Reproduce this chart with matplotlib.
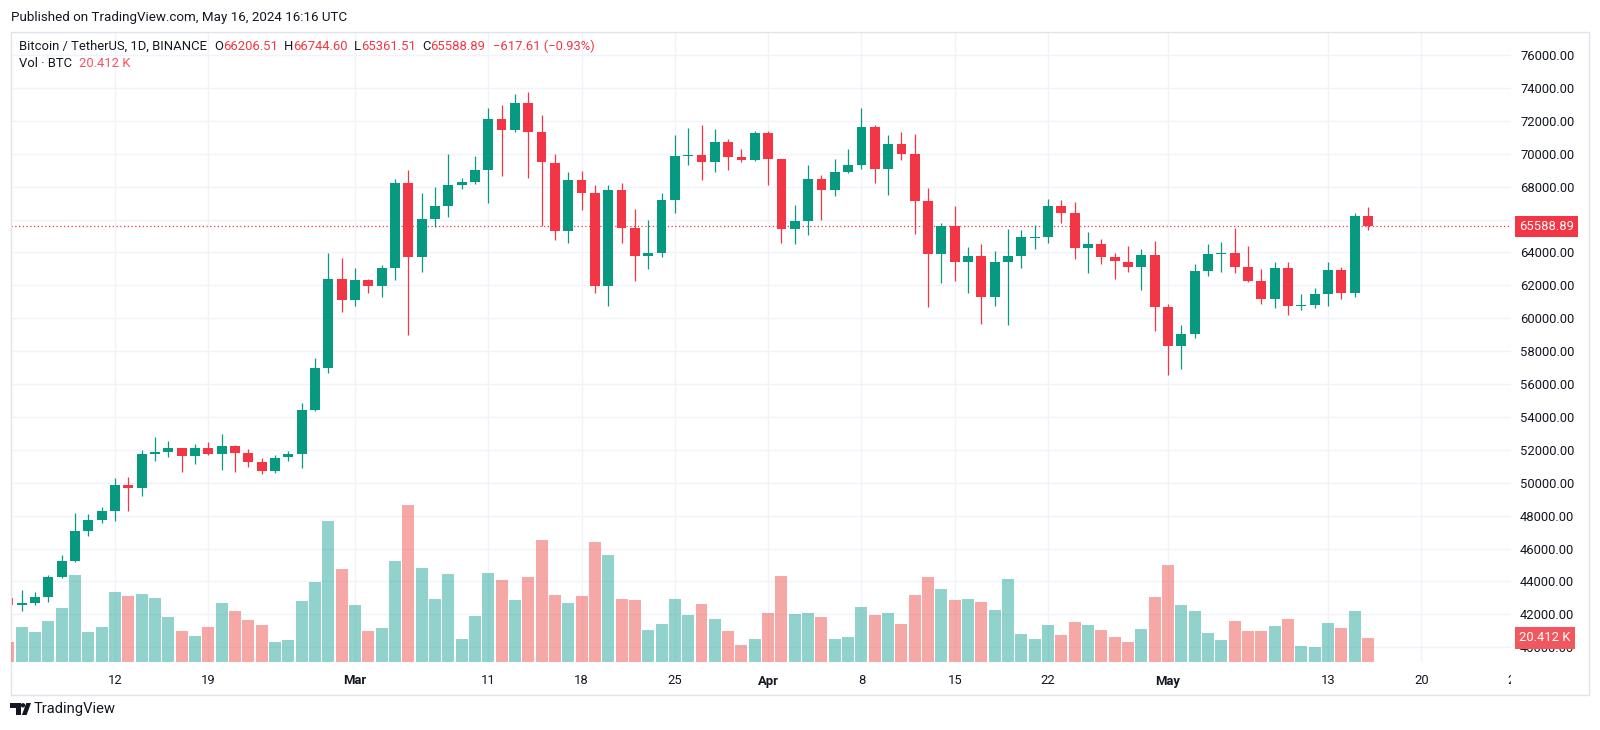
import matplotlib
matplotlib.use("Agg")
import matplotlib.pyplot as plt
import matplotlib.transforms as mtransforms
from matplotlib.patches import Rectangle, Polygon, Circle
import pandas as pd

plt.rcParams['font.family'] = ['Roboto', 'DejaVu Sans']

# daily candles BTCUSDT, from Feb 4 2024 to May 16 2024
start = "2024-02-04"
opens = [43000, 42580, 42660, 43040, 44280, 45250, 47090, 47720, 48260, 49860,
         49660, 51770, 51860, 52085, 51635, 52085, 51770, 52220, 51815, 51275,
         50735, 51560, 51730, 54425, 56990, 62390, 61107, 62345, 61985, 63065,
         68195, 63695, 66057, 66800, 68105, 68300, 68982, 72087, 71435, 73077,
         71345, 69455, 65292, 68375, 67587, 61940, 67812, 65495, 63762, 63965,
         67182, 69860, 69950, 69500, 70737, 69815, 69590, 71277, 69657, 65450,
         65922, 68465, 67812, 68915, 69320, 71615, 69095, 70602, 69995, 67115,
         63920, 65607, 63402, 63762, 61265, 63447, 63762, 64900, 64932, 66800,
         66395, 64257, 64482, 63740, 63425, 63110, 63830, 60657, 58340, 59015,
         62840, 63875, 63965, 63132, 62277, 61175, 63042, 60770, 60792, 61445,
         62907, 61557, 66206.51]
highs = [43180, 43490, 43330, 44390, 45580, 48170, 48125, 48550, 50285, 50350,
         51995, 52760, 52510, 52100, 52330, 52445, 52960, 52300, 52040, 51500,
         51680, 51930, 54875, 57575, 63965, 63650, 63065, 62412, 63245, 68465,
         69005, 67632, 67970, 69995, 68510, 69882, 72762, 72965, 73640, 73775,
         72357, 69995, 68870, 68960, 68082, 68082, 68195, 66620, 65945, 67610,
         71120, 71570, 71750, 71525, 70890, 70287, 71390, 71390, 69700, 66890,
         69320, 68712, 69657, 70287, 72762, 71750, 71165, 71300, 71187, 67902,
         65810, 66800, 64347, 64527, 64100, 65427, 65382, 65675, 67227, 67182,
         67070, 65270, 64820, 63965, 64370, 64212, 64707, 60837, 59600, 63312,
         64527, 64640, 65495, 64370, 62975, 63402, 63425, 61490, 61850, 63425,
         63132, 66395, 66744.60]
lows = [42400, 42210, 42545, 42770, 44200, 45200, 46780, 47540, 47675, 48280,
        49180, 51320, 51545, 50645, 51160, 51700, 50760, 50645, 50960, 50510,
        50600, 51320, 50870, 54350, 56675, 60365, 60770, 61557, 61265, 62300,
        58970, 62795, 65540, 66125, 67857, 68150, 67025, 68645, 71300, 68532,
        65607, 64775, 64550, 66575, 61557, 60770, 64550, 62277, 63020, 63740,
        66395, 69320, 68375, 68915, 69005, 69500, 69540, 68082, 64550, 64482,
        65045, 65945, 67452, 68825, 69050, 68195, 67520, 69590, 65090, 60657,
        62120, 62232, 61557, 59645, 60770, 59600, 63065, 64212, 64550, 65765,
        63627, 62750, 63290, 62390, 62795, 61737, 59195, 56540, 56900, 58790,
        62570, 62795, 62727, 62200, 60882, 60635, 60185, 60500, 60612, 60770,
        61152, 61287, 65361.51]
closes = [42580, 42660, 43040, 44280, 45250, 47090, 47720, 48260, 49860, 49660,
          51770, 51860, 52085, 51635, 52085, 51770, 52220, 51815, 51275, 50735,
          51500, 51730, 54425, 56990, 62390, 61107, 62345, 61985, 63065, 68195,
          63695, 66057, 66800, 68105, 68300, 68982, 72087, 71435, 73077, 71345,
          69500, 65292, 68375, 67632, 61940, 67812, 65495, 63762, 63965, 67182,
          69860, 69950, 69500, 70737, 69815, 69590, 71277, 69657, 65450, 65922,
          68465, 67812, 68870, 69320, 71615, 69095, 70602, 69995, 67115, 63920,
          65607, 63402, 63762, 61265, 63447, 63762, 64932, 64950, 66800, 66395,
          64257, 64482, 63740, 63470, 63132, 63830, 60657, 58340, 59015, 62840,
          63875, 63965, 63132, 62277, 61175, 63042, 60770, 60830, 61445, 62907,
          61557, 66206.51, 65588.89]
volumes_k = [17.3, 29.9, 25.5, 34.7, 46.0, 74.3, 25.5, 29.9, 59.5, 56.0,
             57.6, 54.5, 38.1, 26.2, 22.1, 29.9, 50.3, 43.4, 35.6, 31.5,
             16.7, 18.9, 51.9, 68.0, 119.9, 79.0, 48.2, 26.2, 29.3, 85.9,
             133.7, 79.6, 53.5, 74.9, 19.9, 38.8, 75.5, 69.5, 52.9, 72.3,
             104.1, 56.6, 50.3, 56.0, 102.3, 91.2, 53.8, 52.3, 26.8, 32.5,
             53.8, 40.0, 49.4, 36.2, 26.2, 14.5, 19.9, 41.9, 72.7, 40.9,
             41.9, 38.1, 19.9, 21.4, 46.6, 39.7, 41.9, 32.5, 56.6, 72.3,
             62.3, 52.9, 53.8, 51.3, 44.1, 70.2, 23.6, 19.2, 31.8, 23.0,
             34.0, 31.8, 27.4, 21.4, 17.3, 28.4, 55.4, 82.1, 48.2, 43.4,
             24.6, 18.9, 34.9, 26.2, 26.2, 30.9, 36.6, 13.6, 12.9, 33.4,
             29.3, 43.4, 20.412]

tick_dates = ["2024-02-12", "2024-02-19", "2024-03-01", "2024-03-11", "2024-03-18",
              "2024-03-25", "2024-04-01", "2024-04-08", "2024-04-15", "2024-04-22",
              "2024-05-01", "2024-05-13", "2024-05-20", "2024-05-27"]
tick_labels = ["12", "19", "Mar", "11", "18", "25", "Apr", "8", "15", "22",
               "May", "13", "20", "27"]
price_ticks = list(range(40000, 78000, 2000))

UP, DOWN = "#089981", "#F23645"
VOL_UP, VOL_DOWN = "#26a69a", "#ef5350"
TXT = "#131722"
GRID = "#f0f3fa"

ref = pd.Timestamp("2024-02-12")
dates = pd.date_range(start, periods=len(opens), freq="D")
day = (dates - ref).days.values
tick_day = (pd.to_datetime(tick_dates) - ref).days.values

W, H = 1600, 730
fig = plt.figure(figsize=(16, 7.3), dpi=100)
fig.patch.set_facecolor("white")
px = mtransforms.Affine2D().scale(1 / W, -1 / H).translate(0, 1) + fig.transFigure

L, R, T, B = 10.5, 1511, 32, 662
ax = fig.add_axes([L / W, (H - B) / H, (R - L) / W, (B - T) / H])
axv = ax.twinx()
ax.set_xlim(-7.84, 104.73)
ax.set_ylim(39100, 77400)
for s in ax.spines.values():
    s.set_visible(False)

# grid
for p in price_ticks:
    ax.axhline(p, color=GRID, lw=1, zorder=0)
for d in tick_day:
    ax.axvline(d, color=GRID, lw=1, zorder=0)

# candles
for d, o, h, l, c in zip(day, opens, highs, lows, closes):
    col = UP if c >= o else DOWN
    ax.vlines(d, l, h, color=col, lw=0.9, zorder=2)
    ax.bar(d, max(abs(c - o), 60), bottom=min(o, c), width=0.74, color=col,
           lw=0, zorder=3)

# price axis (on the right, after twinx)
ax.yaxis.tick_right()
ax.yaxis.set_label_position("right")
ax.set_yticks(price_ticks)
ax.set_yticklabels([f"{p:.2f}" for p in price_ticks], fontsize=9.4, color=TXT)
ax.tick_params(axis="y", which="both", left=False, labelleft=False,
               right=False, labelright=True, length=0, pad=6.5)
ax.tick_params(axis="x", length=0, labelbottom=False)
ax.set_xticks([])

# last price line + label
last = closes[-1]
ax.axhline(last, color=DOWN, lw=0.9, ls=(0, (1, 2)), zorder=1)
ax.text(1.0055, last, f"{last:.2f}", transform=mtransforms.blended_transform_factory(ax.transAxes, ax.transData),
        ha="left", va="center", fontsize=9.4, color="white", clip_on=False, zorder=10,
        bbox=dict(boxstyle="square,pad=0.32", fc=DOWN, ec="none"))

# volume
axv.set_ylim(0, 535.5)
axv.axis("off")
axv.set_zorder(ax.get_zorder() + 1)
vcols = [VOL_UP if c >= o else VOL_DOWN for o, c in zip(opens, closes)]
axv.bar(day, volumes_k, width=0.9, color=vcols, alpha=0.5, lw=0)
axv.text(1.0055, volumes_k[-1], f"{volumes_k[-1]:.3f} K",
         transform=mtransforms.blended_transform_factory(ax.transAxes, axv.transData),
         ha="left", va="center", fontsize=9.4, color="white", clip_on=False,
         bbox=dict(boxstyle="square,pad=0.32", fc="#f1575f", ec="none"))

# date labels (clipped at the pane's right edge)
clip = mtransforms.TransformedBbox(
    mtransforms.Bbox.from_extents(L / W, 0, R / W, 1), fig.transFigure)
xt = mtransforms.blended_transform_factory(ax.transData, px)
for d, lab in zip(tick_day, tick_labels):
    t = fig.text(d, 681, lab, transform=xt, ha="center", va="center",
                 fontsize=9.4, color=TXT,
                 fontweight="bold" if lab.isalpha() else "normal")
    t.set_clip_box(clip)
    t.set_clip_on(True)

# frame
fig.add_artist(Rectangle((L, T), 1589 - L, 695 - T, transform=px, fill=False,
                         ec="#e0e3eb", lw=1))

# header
fig.text(11, 17, "Published on TradingView.com, May 16, 2024 16:16 UTC",
         transform=px, ha="left", va="center", fontsize=9.6, color=TXT)

def chain(prev, s, color, gap):
    return fig.add_artist(plt.Annotation(s, xy=(1, 0), xycoords=prev,
                                         xytext=(gap, 0), textcoords="offset points",
                                         ha="left", va="bottom", fontsize=9.4, color=color))

t = fig.text(19, 53, "Bitcoin / TetherUS, 1D, BINANCE", transform=px,
             ha="left", va="bottom", fontsize=9.4, color=TXT)
pieces = [("O", TXT, 5), ("66206.51", DOWN, 0), ("H", TXT, 4.5), ("66744.60", DOWN, 0),
          ("L", TXT, 4.5), ("65361.51", DOWN, 0), ("C", TXT, 4.5), ("65588.89", DOWN, 0),
          ("\u2212617.61 (\u22120.93%)", DOWN, 5.5)]
for s, col, g in pieces:
    t = chain(t, s, col, g)

t = fig.text(19, 70, "Vol \u00b7 BTC", transform=px, ha="left", va="bottom",
             fontsize=9.4, color=TXT)
chain(t, "20.412 K", "#F7525F", 5)

# footer logo
fig.add_artist(Polygon([(10, 703), (20.7, 703), (20.7, 715), (15.5, 715),
                        (15.5, 707.5), (10, 707.5)], closed=True, transform=px,
                       fc=TXT, ec="none"))
fig.add_artist(Circle((23.0, 705.3), 2.2, transform=px, fc=TXT, ec="none"))
fig.add_artist(Polygon([(26.3, 703), (31.0, 703), (26.6, 715), (21.9, 715)],
                       closed=True, transform=px, fc=TXT, ec="none"))
fig.text(34, 709, "TradingView", transform=px, ha="left", va="center",
         fontsize=10.6, color=TXT)

fig.savefig("out.png", dpi=100)
